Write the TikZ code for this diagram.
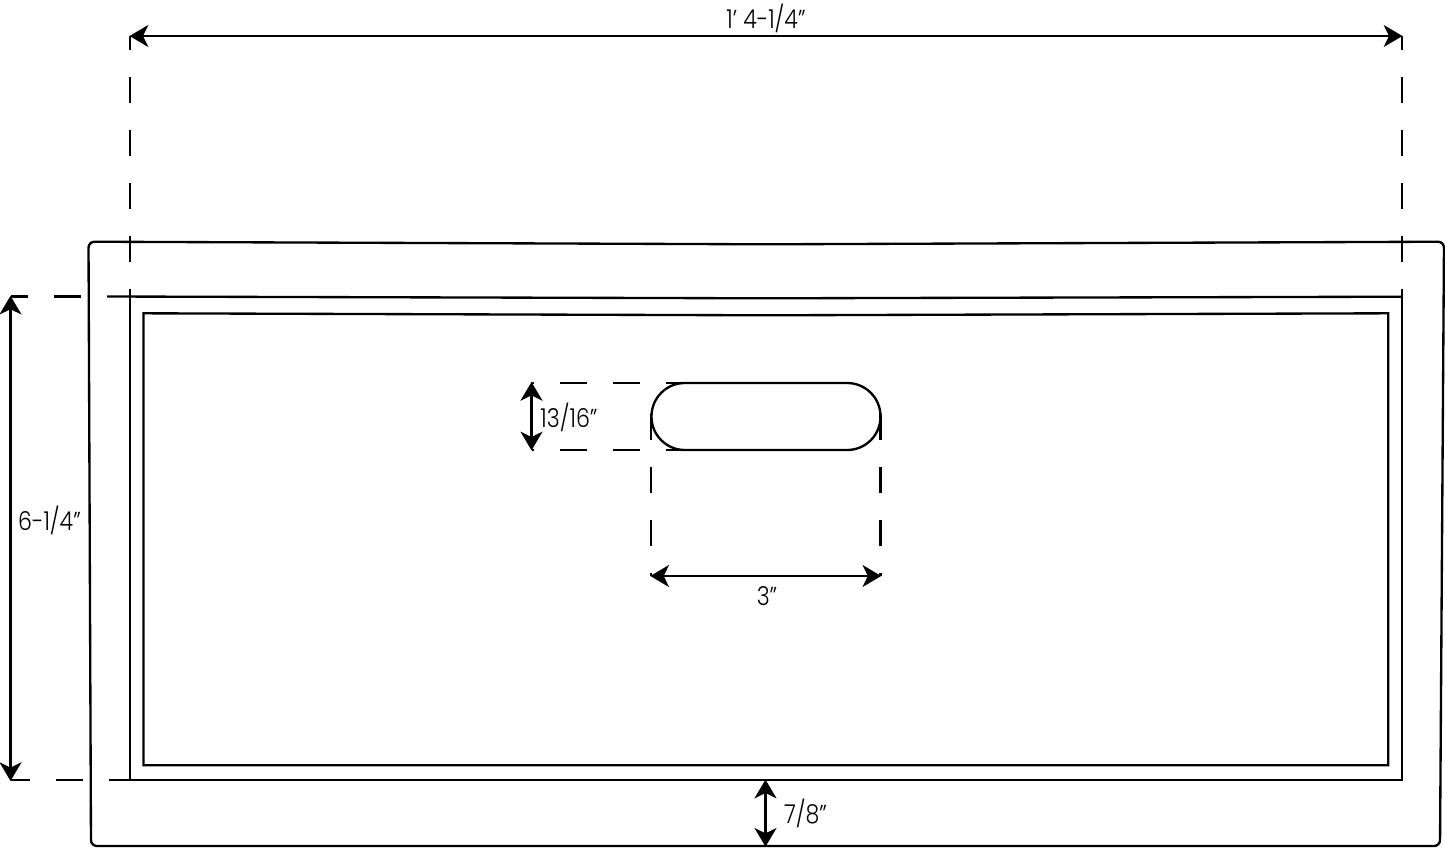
\documentclass[tikz,border=0pt]{standalone}
\usepackage{fontspec}
\setmainfont{Poppins Light}[FakeStretch=0.85]
\usetikzlibrary{arrows.meta}
\tikzset{
  outline/.style={line width=1.75pt,line join=miter,black},
  ext/.style={line width=1.6pt,black,dash pattern=on 19.9pt off 19.9pt},
  dim/.style={line width=1.6pt,black,{Stealth[length=14pt,width=16.5pt,inset=4pt]}-{Stealth[length=14pt,width=16.5pt,inset=4pt]},shorten >=-0.5pt,shorten <=-0.5pt},
  lab/.style={inner sep=0pt,font=\fontsize{19.5pt}{22pt}\selectfont,text=black}
}
\begin{document}
\begin{tikzpicture}[x=0.75pt,y=-0.75pt]
\useasboundingbox[fill=white] (0,0) rectangle (1445,857);
% outer panel
\draw[outline,rounded corners=4.5pt] (88.5,241.7) -- (766,244.3) -- (1444,241.7) -- (1440,846) -- (91,846) -- cycle;
% inner frames
\draw[outline] (107,296.5) -- (766,298.3) -- (1402,296.7);
\draw[outline] (130.3,296.5) -- (130.3,780.3);
\draw[outline] (109,780.3) -- (1401.7,780.3) -- (1401.7,296.7);
\draw[outline] (143.5,313.3) -- (766,315.3) -- (1388.3,313.3) -- (1388.3,765.3) -- (143.5,765.3) -- cycle;
% slot
\draw[outline,rounded corners=25pt] (651.5,383) rectangle (880.5,450);
% width extension lines
\coordinate (wtL) at (130.3,36);
\coordinate (wtR) at (1401.7,36);
\coordinate (wbL) at (130.3,314);
\coordinate (wbR) at (1401.7,314);
\draw[ext,dash phase=9.4pt] (wtL) -- (wbL);
\draw[ext,dash phase=9.4pt] (wtR) -- (wbR);
\draw[dim] (wtL) -- (wtR);
\node[lab] (widthlab) at (766,18) {1’ 4-1/4”};
% height extension lines
\coordinate (htT) at (10.5,296.5);
\coordinate (hbT) at (81,296.5);
\coordinate (htB) at (10.5,780.3);
\coordinate (hbB) at (83,780.3);
\draw[ext] (hbT) -- (htT);
\draw[ext] (hbB) -- (htB);
\draw[dim] (htT) -- (htB);
\node[lab] (heightlab) at (49.5,520) {6-1/4”};
% slot height
\coordinate (shT) at (531.5,382.7);
\coordinate (seT) at (693,382.7);
\coordinate (shB) at (531.5,449.7);
\coordinate (seB) at (693,449.7);
\draw[ext] (seT) -- (shT);
\draw[ext] (seB) -- (shB);
\draw[dim] (shT) -- (shB);
\node[lab] (slothlab) at (569,417) {13/16”};
% slot width
\coordinate (swL) at (651,576);
\coordinate (swR) at (880.5,576);
\coordinate (seL) at (651,413.5);
\coordinate (seR) at (880.5,413.5);
\draw[ext] (seL) -- (swL);
\draw[ext] (seR) -- (swR);
\draw[dim] (swL) -- (swR);
\node[lab] (slotwlab) at (767,596) {3”};
% bottom margin
\coordinate (mT) at (765.5,780.3);
\coordinate (mB) at (765.5,846);
\draw[dim] (mT) -- (mB);
\node[lab] (marginlab) at (805.5,813) {7/8”};
\end{tikzpicture}
\end{document}
